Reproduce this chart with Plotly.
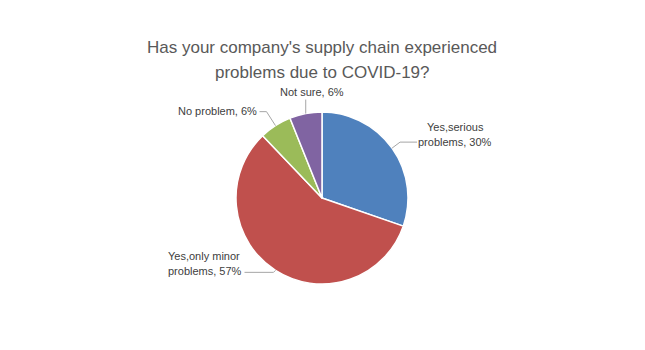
import math
import plotly.graph_objects as go

# ---- data ----
categories = ["Yes,serious problems", "Yes,only minor problems", "No problem", "Not sure"]
label_lines = ["Yes,serious<br>problems, 30%", "Yes,only minor<br>problems, 57%", "No problem, 6%", "Not sure, 6%"]
values = [30, 57, 6, 6]
colors = ["#4F81BD", "#C0504D", "#9BBB59", "#8064A2"]
title_lines = ["Has your company's supply chain experienced", "problems due to COVID-19?"]

W, H = 645, 350
CX, CY, R = 322, 198, 86  # pie center / radius in pixels


def px(x, y):
    return x / W, 1 - y / H


fig = go.Figure()
fig.add_trace(go.Pie(
    labels=categories,
    values=values,
    sort=False,
    direction="clockwise",
    rotation=0,
    marker=dict(colors=colors, line=dict(color="white", width=1.5)),
    textinfo="none",
    hoverinfo="label+percent",
    showlegend=False,
    domain=dict(x=[(CX - R) / W, (CX + R) / W], y=[1 - (CY + R) / H, 1 - (CY - R) / H]),
))

# label placement (style): elbow offsets and label anchor relative to slice edge
# (dx_elbow, dy_elbow, dx_end, dy_end, xanchor, label_dx, label_dy)
placements = [
    (8, -6, 25, -6, "center", 63, -14),
    (-2, 2, -31, 2, "left", -110, -7),
    (-9, -14, -16, -14, "right", -17, -15),
    (0, -14, 0, -14, "center", 6, -22),
]

total = sum(values)
cum = 0
shapes = []
annotations = []
for i, v in enumerate(values):
    mid = (cum + v / 2) / total * 2 * math.pi
    cum += v
    ex = CX + R * math.sin(mid)
    ey = CY - R * math.cos(mid)
    dxe, dye, dxn, dyn, xa, ldx, ldy = placements[i]
    pts = [(ex, ey), (ex + dxe, ey + dye), (ex + dxn, ey + dyn)]
    for (x0, y0), (x1, y1) in zip(pts[:-1], pts[1:]):
        if (x0, y0) == (x1, y1):
            continue
        a0, b0 = px(x0, y0)
        a1, b1 = px(x1, y1)
        shapes.append(dict(type="line", xref="paper", yref="paper", x0=a0, y0=b0, x1=a1, y1=b1,
                           line=dict(color="#A6A6A6", width=1)))
    lines = label_lines[i].split("<br>")
    n = len(lines)
    for j, t in enumerate(lines):
        lx, ly = px(ex + ldx, ey + ldy + (j - (n - 1) / 2) * 15)
        annotations.append(dict(
            x=lx, y=ly, xref="paper", yref="paper", text=t, showarrow=False,
            xanchor=xa, yanchor="middle", align="left",
            font=dict(family="Liberation Sans, Arial, sans-serif", size=11, color="#404040"),
        ))

for j, t in enumerate(title_lines):
    tx, ty = px(CX, 48 + j * 24)
    annotations.append(dict(
        x=tx, y=ty, xref="paper", yref="paper", text=t, showarrow=False,
        xanchor="center", yanchor="middle",
        font=dict(family="Liberation Sans, Arial, sans-serif", size=17, color="#595959"),
    ))

fig.update_layout(
    width=W, height=H,
    margin=dict(l=0, r=0, t=0, b=0),
    paper_bgcolor="white",
    plot_bgcolor="white",
    shapes=shapes,
    annotations=annotations,
)

fig.write_html("out.html")
